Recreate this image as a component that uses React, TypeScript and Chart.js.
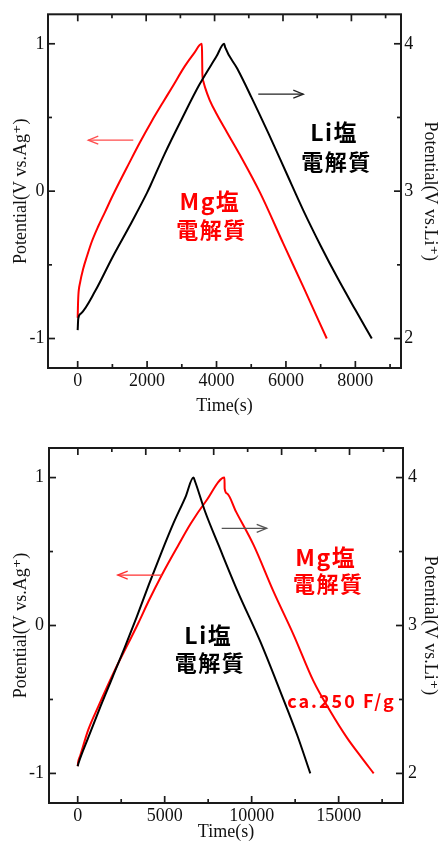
import React, { useEffect, useRef } from "react";
import { Chart, registerables } from "chart.js";

Chart.register(...registerables);

// ---------------- Upper panel (Li salt vs Mg salt electrolyte) ----------------
const upperLiTime = [0, 17, 95, 500, 1000, 1500, 2000, 2100, 2500, 3000, 3500, 4000, 4220, 4250, 4600, 5000, 5500, 6000, 6500, 7000, 7500, 8000, 8473];
// V vs. Li+
const upperLiPotential = [2.057, 2.136, 2.17, 2.32, 2.55, 2.765, 2.99, 3.04, 3.25, 3.49, 3.72, 3.915, 4.0, 3.975, 3.83, 3.64, 3.39, 3.13, 2.87, 2.63, 2.405, 2.195, 2.0];

const upperMgTime = [0, 8, 20, 70, 161, 270, 403, 590, 787, 1000, 1200, 1450, 1780, 2133, 2450, 2709, 3092, 3350, 3575, 3583, 3592, 3620, 3669, 3800, 4000, 4300, 4677, 5254, 5925, 6501, 7176];
// V vs. Ag+
const upperMgPotential = [-0.86, -0.78, -0.706, -0.62, -0.525, -0.44, -0.345, -0.24, -0.142, -0.035, 0.06, 0.175, 0.325, 0.475, 0.6, 0.7, 0.85, 0.935, 1.0, 0.95, 0.8, 0.745, 0.704, 0.62, 0.525, 0.4, 0.245, -0.01, -0.356, -0.65, -1.0];

// ---------------- Lower panel ----------------
const lowerLiTime = [0, 50, 600, 1300, 2000, 2700, 3400, 4100, 4800, 5500, 6200, 6654, 6752, 7327, 8093, 9200, 10493, 11644, 12606, 13371];
// V vs. Li+
const lowerLiPotential = [2.049, 2.07, 2.24, 2.45, 2.65, 2.85, 3.06, 3.28, 3.49, 3.69, 3.87, 4.0, 3.972, 3.769, 3.545, 3.229, 2.892, 2.555, 2.263, 2.0];

const lowerMgTime = [0, 30, 132, 610, 1186, 2147, 2913, 3500, 4064, 4835, 5791, 6500, 7400, 8438, 8448, 8576, 9100, 10108, 11259, 12410, 13561, 14522, 15484, 16300, 17015];
// V vs. Ag+
const lowerMgPotential = [-0.951, -0.92, -0.884, -0.704, -0.547, -0.299, -0.119, 0.02, 0.162, 0.342, 0.545, 0.69, 0.845, 1.0, 0.925, 0.893, 0.77, 0.545, 0.229, -0.063, -0.378, -0.58, -0.76, -0.89, -1.0];

// ---------------- Ticks ----------------
const upperTimeTickLabels = ["0", "2000", "4000", "6000", "8000"];
const upperTimeMinorTicks = [1000, 3000, 5000, 7000, 9000];
const lowerTimeTickLabels = ["0", "5000", "10000", "15000"];
const lowerTimeMinorTicks = [2500, 7500, 12500, 17500];
const topEdgeTicks = [0, 2000, 4000, 6000, 8000];
const topEdgeMinorTicks = [1000, 3000, 5000, 7000, 9000];
const agTickLabels = ["-1", "0", "1"];
const agMinorTicks = [-0.5, 0.5];
const liTickLabels = ["2", "3", "4"];
const liMinorTicks = [2.5, 3.5];

// ---------------- Texts ----------------
const timeTitle = "Time(s)";
const agTitle = "Potential(V vs.Ag\u207A)";
const liTitle = "Potential(V vs.Li\u207A)";
const liSaltLabel = "Li塩";
const mgSaltLabel = "Mg塩";
const electrolyteLabel = "電解質";
const capacityLabel = "ca.250 F/g";

const SERIF = '"Liberation Serif", "Times New Roman", "DejaVu Serif", serif';
const GOTHIC = '"Noto Sans CJK JP", "Noto Sans", sans-serif';
const W = 439;
const H = 425;
const RED = "#ff0000";

type Area = { left: number; top: number; right: number; bottom: number };
type ArrowSpec = { from: number; to: number; level: number; axis: string; color: string };
type LabelSpec = { text: string; x: number; y: number; color: string; size: number; spacing: number; baseline: CanvasTextBaseline };

type PanelSpec = {
  liTime: number[];
  liPot: number[];
  mgTime: number[];
  mgPot: number[];
  area: Area;
  xMin: number;
  xMax: number;
  xTopMin: number;
  xTopMax: number;
  xLabels: string[];
  xMinor: number[];
  xPad: number;
  xTitlePad: number;
  yPad: number;
  y2Pad: number;
  arrows: ArrowSpec[];
  labels: LabelSpec[];
};

const tickObjs = (vals: number[]) => vals.map((v) => ({ value: v }));

function makeDecor(spec: PanelSpec) {
  return {
    id: "decor",
    afterDraw(chart: any) {
      const { ctx, chartArea: a, scales } = chart;
      ctx.save();
      const line = (x1: number, y1: number, x2: number, y2: number) => {
        ctx.beginPath();
        ctx.moveTo(x1, y1);
        ctx.lineTo(x2, y2);
        ctx.stroke();
      };
      const minor: Record<string, number[]> = {
        x: spec.xMinor,
        xTop: topEdgeMinorTicks,
        y: agMinorTicks,
        y2: liMinorTicks,
      };
      ctx.strokeStyle = "#1a1a1a";
      ctx.lineWidth = 1.7;
      const mark = (id: string, values: number[], len: number) => {
        const s = scales[id];
        for (const v of values) {
          const p = s.getPixelForValue(v);
          if (id === "x") line(p, a.bottom, p, a.bottom - len);
          else if (id === "xTop") line(p, a.top, p, a.top + len);
          else if (id === "y") line(a.left, p, a.left + len, p);
          else line(a.right, p, a.right - len, p);
        }
      };
      for (const id of ["x", "xTop", "y", "y2"]) {
        mark(id, scales[id].ticks.map((t: any) => t.value), 7);
        mark(id, minor[id], 4);
      }
      ctx.lineWidth = 2;
      ctx.strokeRect(a.left, a.top, a.right - a.left, a.bottom - a.top);

      for (const ar of spec.arrows) {
        const xs = scales.x;
        const ys = scales[ar.axis];
        const x1 = xs.getPixelForValue(ar.from);
        const x2 = xs.getPixelForValue(ar.to);
        const y = ys.getPixelForValue(ar.level);
        ctx.strokeStyle = ar.color;
        ctx.lineWidth = 1.3;
        line(x1, y, x2, y);
        const d = Math.sign(x2 - x1);
        ctx.beginPath();
        ctx.moveTo(x2 - d * 10, y - 4);
        ctx.lineTo(x2, y);
        ctx.lineTo(x2 - d * 10, y + 4);
        ctx.stroke();
      }

      for (const lb of spec.labels) {
        const px = scales.x.getPixelForValue(lb.x);
        const py = scales.y.getPixelForValue(lb.y);
        ctx.font = `bold ${lb.size}px ${GOTHIC}`;
        try {
          (ctx as any).letterSpacing = `${lb.spacing}px`;
        } catch (e) {}
        ctx.textAlign = "center";
        ctx.textBaseline = lb.baseline;
        ctx.fillStyle = lb.color;
        ctx.fillText(lb.text, px + lb.spacing / 2, py);
      }
      ctx.restore();
    },
  };
}

function buildConfig(spec: PanelSpec): any {
  const serifFont = { family: SERIF, size: 18 };
  const titleFont = { family: SERIF, size: 18, lineHeight: 1 };
  const a = spec.area;
  return {
    type: "scatter",
    data: {
      datasets: [
        {
          data: spec.liTime.map((t, i) => ({ x: t, y: spec.liPot[i] })),
          xAxisID: "x",
          yAxisID: "y2",
          borderColor: "#000000",
          borderWidth: 2,
          showLine: true,
          pointRadius: 0,
          cubicInterpolationMode: "monotone",
          fill: false,
        },
        {
          data: spec.mgTime.map((t, i) => ({ x: t, y: spec.mgPot[i] })),
          xAxisID: "x",
          yAxisID: "y",
          borderColor: RED,
          borderWidth: 2,
          showLine: true,
          pointRadius: 0,
          cubicInterpolationMode: "monotone",
          fill: false,
        },
      ],
    },
    options: {
      responsive: false,
      animation: false,
      devicePixelRatio: 1,
      events: [],
      layout: { padding: { top: a.top, left: 0, right: 0, bottom: 0 } },
      plugins: { legend: { display: false }, tooltip: { enabled: false } },
      scales: {
        x: {
          type: "linear",
          position: "bottom",
          min: spec.xMin,
          max: spec.xMax,
          afterBuildTicks: (s: any) => {
            s.ticks = tickObjs(spec.xLabels.map(Number));
          },
          ticks: {
            font: serifFont,
            color: "#111",
            padding: spec.xPad,
            maxRotation: 0,
            autoSkip: false,
            callback: (_v: any, i: number) => spec.xLabels[i],
          },
          grid: { display: false, drawTicks: false },
          border: { display: false },
          title: { display: true, text: timeTitle, font: titleFont, color: "#111", padding: { top: 0, bottom: spec.xTitlePad } },
          afterFit: (s: any) => {
            s.height = H - a.bottom;
          },
        },
        xTop: {
          type: "linear",
          position: "top",
          min: spec.xTopMin,
          max: spec.xTopMax,
          afterBuildTicks: (s: any) => {
            s.ticks = tickObjs(topEdgeTicks);
          },
          ticks: { display: false },
          grid: { display: false, drawTicks: false },
          border: { display: false },
          afterFit: (s: any) => {
            s.height = 0;
          },
        },
        y: {
          type: "linear",
          position: "left",
          min: -1.2,
          max: 1.2,
          afterBuildTicks: (s: any) => {
            s.ticks = tickObjs(agTickLabels.map(Number));
          },
          ticks: {
            font: serifFont,
            color: "#111",
            padding: spec.yPad,
            autoSkip: false,
            callback: (_v: any, i: number) => agTickLabels[i],
          },
          grid: { display: false, drawTicks: false },
          border: { display: false },
          title: { display: true, text: agTitle, font: titleFont, color: "#111", padding: { top: 12.5, bottom: 0 } },
          afterFit: (s: any) => {
            s.width = a.left;
          },
        },
        y2: {
          type: "linear",
          position: "right",
          min: 1.8,
          max: 4.2,
          afterBuildTicks: (s: any) => {
            s.ticks = tickObjs(liTickLabels.map(Number));
          },
          ticks: {
            font: serifFont,
            color: "#111",
            padding: spec.y2Pad,
            autoSkip: false,
            callback: (_v: any, i: number) => liTickLabels[i],
          },
          grid: { display: false, drawTicks: false },
          border: { display: false },
          title: { display: true, text: liTitle, font: titleFont, color: "#111", padding: { top: 0, bottom: 0 } },
          afterFit: (s: any) => {
            s.width = W - a.right;
          },
        },
      },
    },
    plugins: [makeDecor(spec)],
  };
}

const upperSpec: PanelSpec = {
  liTime: upperLiTime,
  liPot: upperLiPotential,
  mgTime: upperMgTime,
  mgPot: upperMgPotential,
  area: { left: 48, top: 14, right: 401, bottom: 368 },
  xMin: -855,
  xMax: 9315,
  xTopMin: -870,
  xTopMax: 9450,
  xLabels: upperTimeTickLabels,
  xMinor: upperTimeMinorTicks,
  xPad: 2.5,
  xTitlePad: 10,
  yPad: 3.5,
  y2Pad: 3.3,
  arrows: [
    { from: 1602, to: 305, level: 0.346, axis: "y", color: "#ff4d4d" },
    { from: 5203, to: 6500, level: 3.658, axis: "y2", color: "#222222" },
  ],
  labels: [
    { text: liSaltLabel, x: 7364, y: 0.397, color: "#000", size: 23, spacing: 1.5, baseline: "middle" },
    { text: electrolyteLabel, x: 7436, y: 0.202, color: "#000", size: 22, spacing: 1.5, baseline: "middle" },
    { text: mgSaltLabel, x: 3789, y: -0.069, color: RED, size: 23, spacing: 1.5, baseline: "middle" },
    { text: electrolyteLabel, x: 3835, y: -0.259, color: RED, size: 22, spacing: 1.5, baseline: "middle" },
  ],
};

const lowerSpec: PanelSpec = {
  liTime: lowerLiTime,
  liPot: lowerLiPotential,
  mgTime: lowerMgTime,
  mgPot: lowerMgPotential,
  area: { left: 49, top: 23, right: 403, bottom: 378 },
  xMin: -1650,
  xMax: 18700,
  xTopMin: -850,
  xTopMax: 9575,
  xLabels: lowerTimeTickLabels,
  xMinor: lowerTimeMinorTicks,
  xPad: 2.5,
  xTitlePad: 8.5,
  yPad: 5,
  y2Pad: 5,
  arrows: [
    { from: 4863, to: 2299, level: 0.341, axis: "y", color: "#ff3030" },
    { from: 8278, to: 10865, level: 3.657, axis: "y2", color: "#555555" },
  ],
  labels: [
    { text: mgSaltLabel, x: 14216, y: 0.46, color: RED, size: 23, spacing: 1.5, baseline: "middle" },
    { text: electrolyteLabel, x: 14360, y: 0.281, color: RED, size: 22, spacing: 1.5, baseline: "middle" },
    { text: capacityLabel, x: 15107, y: -0.56, color: RED, size: 18, spacing: 2, baseline: "alphabetic" },
    { text: liSaltLabel, x: 7461, y: -0.064, color: "#000", size: 23, spacing: 1.5, baseline: "middle" },
    { text: electrolyteLabel, x: 7559, y: -0.252, color: "#000", size: 22, spacing: 1.5, baseline: "middle" },
  ],
};

function ChartPanel({ spec, top }: { spec: PanelSpec; top: number }) {
  const ref = useRef<HTMLCanvasElement>(null);
  useEffect(() => {
    if (!ref.current) return;
    const chart = new Chart(ref.current, buildConfig(spec));
    return () => chart.destroy();
  }, [spec]);
  return (
    <canvas
      ref={ref}
      width={W}
      height={H}
      style={{ position: "absolute", left: 0, top, width: W, height: H, display: "block" }}
    />
  );
}

export default function App() {
  return (
    <div style={{ position: "absolute", left: 0, top: 0, width: W, height: 850, background: "#ffffff" }}>
      <ChartPanel spec={upperSpec} top={0} />
      <ChartPanel spec={lowerSpec} top={425} />
    </div>
  );
}
